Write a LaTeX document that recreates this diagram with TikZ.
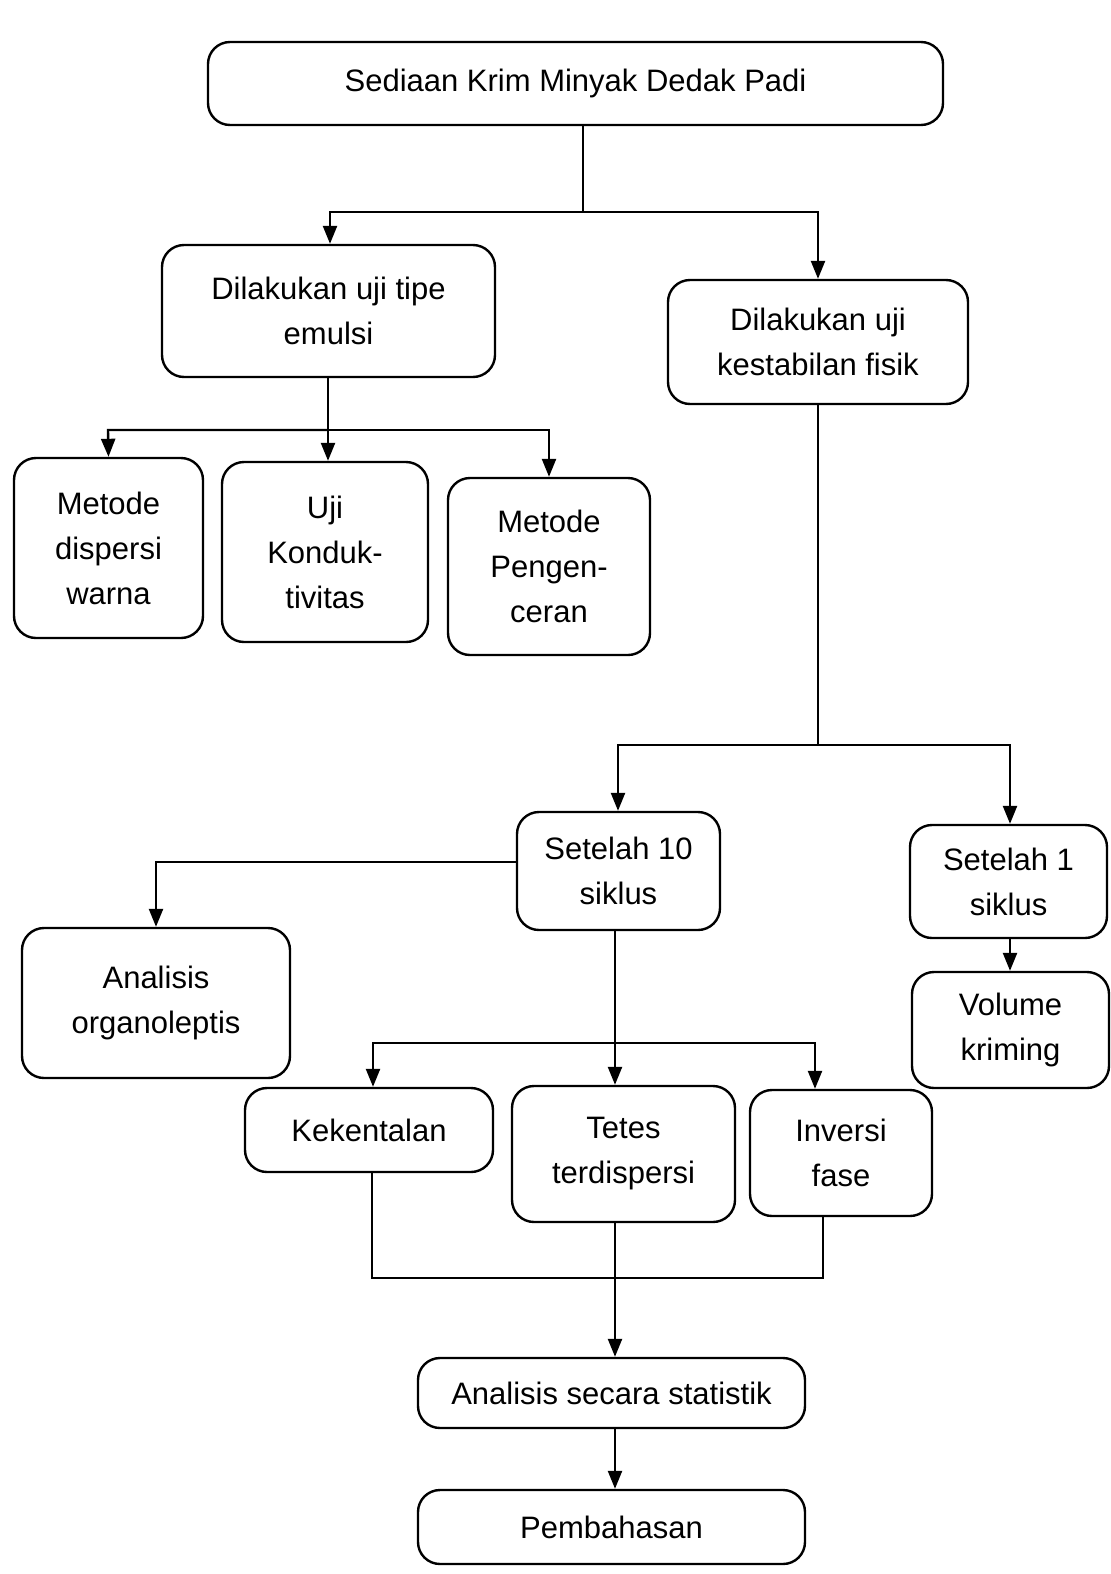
\documentclass[tikz,border=0pt]{standalone}
\usepackage{fontspec}
\setmainfont{Liberation Sans}
\usetikzlibrary{arrows.meta}
\newcommand{\bx}[6]{%
  \node[box, minimum width={((#4)-(#2))*0.5pt}, minimum height={((#5)-(#3))*0.5pt}]
    (#1) at ({((#2)+(#4))/2},{((#3)+(#5))/2}) {#6};}
\begin{document}
\begin{tikzpicture}[x=0.5pt,y=-0.5pt,
  box/.style={draw, line width=1.2pt, rounded corners=11pt, inner sep=0pt, align=center,
    font=\fontsize{15.5}{22.5}\selectfont},
  conn/.style={line width=1.2pt},
  arr/.style={line width=1.2pt, -{Triangle[width=7pt,length=9pt]}}]
\useasboundingbox (0,0) rectangle (1111,1574);
% boxes
\bx{top}{208}{42}{943}{125}{Sediaan Krim Minyak Dedak Padi}
\bx{tipe}{162}{245}{495}{377}{Dilakukan uji tipe\\emulsi}
\bx{stab}{668}{280}{968}{404}{Dilakukan uji\\kestabilan fisik}
\bx{disp}{14}{458}{203}{638}{Metode\\dispersi\\warna}
\bx{kond}{222}{462}{428}{642}{Uji\\Konduk-\\tivitas}
\bx{peng}{448}{478}{650}{655}{Metode\\Pengen-\\ceran}
\bx{s10}{517}{812}{720}{930}{Setelah 10\\siklus}
\bx{s1}{910}{825}{1107}{938}{Setelah 1\\siklus}
\bx{org}{22}{928}{290}{1078}{Analisis\\organoleptis}
\bx{vol}{912}{972}{1109}{1088}{Volume\\kriming}
\bx{kek}{245}{1088}{493}{1172}{Kekentalan}
\bx{tet}{512}{1086}{735}{1222}{Tetes\\terdispersi}
\bx{inv}{750}{1090}{932}{1216}{Inversi\\fase}
\bx{stat}{418}{1358}{805}{1428}{Analisis secara statistik}
\bx{bah}{418}{1490}{805}{1564}{Pembahasan}
% junction coordinates
\coordinate (j1) at (583,212);
\coordinate (j2) at (328,430);
\coordinate (j3) at (818,745);
\coordinate (j4) at (615,1043);
\coordinate (j5) at (615,1278);
% connectors
\draw[conn] (top.south -| j1) -- (j1);
\draw[arr] (j1) -- (330,212) -- (tipe.north -| 330,0);
\draw[arr] (j1) -- (818,212) -- (stab.north -| 818,0);
\draw[conn] (tipe.south -| j2) -- (j2);
\draw[arr] (j2) -- (108,430) -- (disp.north);
\draw[arr] (j2) -- (kond.north -| j2);
\draw[arr] (j2) -- (549,430) -- (peng.north);
\draw[conn] (stab.south -| j3) -- (j3);
\draw[arr] (j3) -- (618,745) -- (s10.north -| 618,0);
\draw[arr] (j3) -- (1010,745) -- (s1.north -| 1010,0);
\draw[arr] (s10.west |- 0,862) -- (156,862) -- (org.north -| 156,0);
\draw[arr] (s10.south -| j4) -- (tet.north -| j4);
\draw[arr] (j4) -- (373,1043) -- (kek.north -| 373,0);
\draw[arr] (j4) -- (815,1043) -- (inv.north -| 815,0);
\draw[arr] (s1.south -| 1010,0) -- (vol.north -| 1010,0);
\draw[conn] (kek.south -| 372,0) -- (372,1278) -- (823,1278) -- (inv.south -| 823,0);
\draw[arr] (tet.south -| j5) -- (stat.north -| j5);
\draw[arr] (stat.south -| j5) -- (bah.north -| j5);
\end{tikzpicture}
\end{document}
